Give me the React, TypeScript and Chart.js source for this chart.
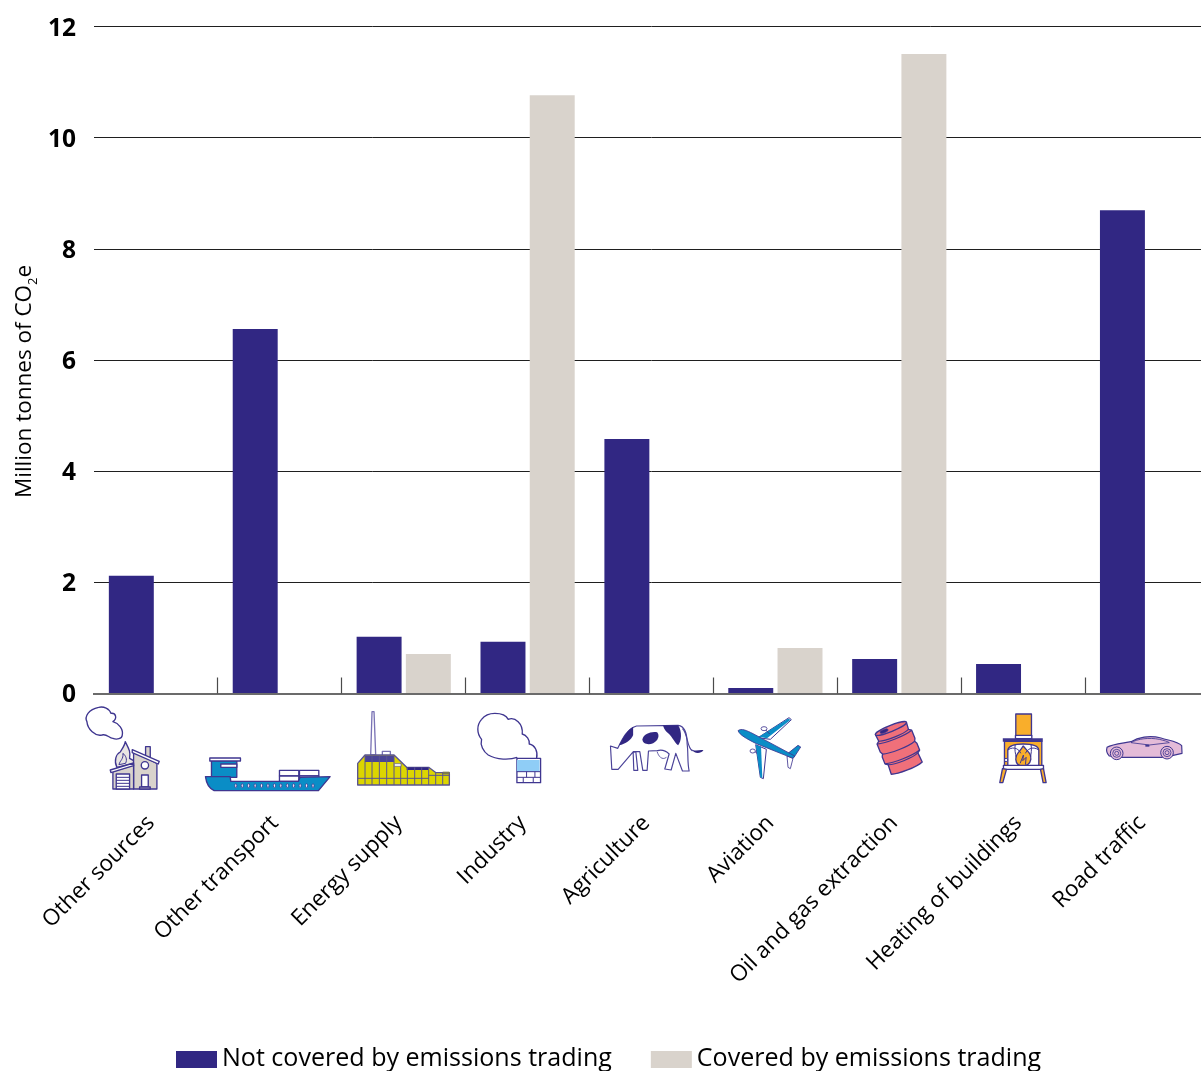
import React, { useEffect, useRef } from "react";
import { Chart, registerables } from "chart.js";

Chart.register(...registerables);

const categories = [
  "Other sources",
  "Other transport",
  "Energy supply",
  "Industry",
  "Agriculture",
  "Aviation",
  "Oil and gas extraction",
  "Heating of buildings",
  "Road traffic",
];
const notCovered = [2.12, 6.56, 1.02, 0.93, 4.58, 0.1, 0.62, 0.53, 8.7];
const covered = [null, null, 0.71, 10.77, null, 0.82, 11.51, null, null];
const seriesNames = ["Not covered by emissions trading", "Covered by emissions trading"];

const NAVY = "#312783";
const BEIGE = "#d9d3cc";
const LINE = "#3f3690";
const BLUE = "#0a8dc6";
const FONT = '"Open Sans", sans-serif';

type Ctx = CanvasRenderingContext2D;

function shape(ctx: Ctx, d: string, fill?: string | null, stroke: string | null = LINE, lw = 4) {
  const p = new Path2D(d);
  if (fill) {
    ctx.fillStyle = fill;
    ctx.fill(p);
  }
  if (stroke) {
    ctx.strokeStyle = stroke;
    ctx.lineWidth = lw;
    ctx.stroke(p);
  }
}
const rect = (x: number, y: number, w: number, h: number) => `M${x} ${y}h${w}v${h}h${-w}Z`;
const circ = (x: number, y: number, r: number) => `M${x - r} ${y}a${r} ${r} 0 1 0 ${2 * r} 0a${r} ${r} 0 1 0 ${-2 * r} 0Z`;
const ell = (x: number, y: number, rx: number, ry: number) => `M${x - rx} ${y}a${rx} ${ry} 0 1 0 ${2 * rx} 0a${rx} ${ry} 0 1 0 ${-2 * rx} 0Z`;

// Pictograms are authored on a 3x grid; `cx` is the grid column of the category centre.
const icons: { cx: number; draw: (ctx: Ctx) => void }[] = [
  {
    cx: 258,
    draw: (c) => {
      shape(c, "M85 112C100 108 118 116 122 130C137 128 142 145 128 155C146 160 160 178 156 196C155 206 140 210 128 205C116 205 110 190 95 195C75 200 52 178 50 155C42 140 55 118 85 112Z");
      shape(c, "M165 215C175 235 182 245 178 265L190 272L190 280L140 292C130 272 138 252 150 246C156 236 164 226 165 215Z", "#e9e6e3");
      shape(c, "M158 250C166 256 172 268 166 280L146 284C150 270 160 268 158 250Z", null, LINE, 3);
      shape(c, rect(226, 230, 14, 32), BEIGE);
      shape(c, "M190 245L260 280L260 357L190 357Z", BEIGE);
      shape(c, "M128 305L190 285L190 357L128 357Z", BEIGE);
      shape(c, "M186 239L267 274L264 282L186 248Z", "#ffffff");
      shape(c, "M120 300L190 279L190 287L122 308Z", "#ffffff");
      shape(c, circ(224, 286, 11), "#ffffff");
      shape(c, rect(214, 315, 20, 36), "#ffffff");
      shape(c, rect(208, 351, 32, 6), BEIGE);
      shape(c, rect(138, 312, 40, 45), "#ffffff");
      for (let y = 322; y < 357; y += 9) shape(c, `M138 ${y}H178`, null, LINE, 3);
    },
  },
  {
    cx: 630,
    draw: (c) => {
      shape(c, rect(424, 272, 76, 50), BLUE);
      shape(c, rect(419, 264, 92, 9), "#ffffff");
      shape(c, rect(452, 282, 48, 10), "#ffffff");
      shape(c, rect(628, 301, 58, 17), "#ffffff");
      shape(c, rect(688, 301, 58, 17), "#ffffff");
      shape(c, rect(628, 318, 58, 16), "#ffffff");
      shape(c, rect(688, 318, 58, 12), "#ffffff");
      shape(c, "M406 320L480 320L482 334L685 334L690 322L780 320L745 362L432 362C416 355 408 336 406 320Z", BLUE);
      for (let x = 497; x <= 730; x += 19.3) shape(c, ell(x, 347, 3, 6), "#ffffff", LINE, 2.5);
    },
  },
  {
    cx: 1002,
    draw: (c) => {
      shape(c, "M902 255L906 125L912 125L917 255Z", "#ffffff", "#7a73b5");
      shape(c, rect(937, 244, 24, 14), "#ffffff", "#7a73b5");
      shape(c, "M863 345L863 280L885 255L972 255L1010 292L1076 292L1098 308L1138 308L1138 345Z", "#dcd500", "#5a5490");
      shape(c, rect(885, 257, 87, 19), "#4a4495", null);
      shape(c, rect(1010, 292, 66, 8), NAVY, null);
      shape(c, rect(1118, 305, 20, 8), "#7d7b4d", null);
      const ridge = [[885, 258], [906, 258], [928, 258], [950, 258], [972, 258], [992, 279], [1012, 292], [1034, 292], [1055, 292], [1076, 292], [1097, 308], [1118, 308]];
      for (const [x, top] of ridge) shape(c, `M${x} ${top}V345`, null, "#5a5490", 3);
      shape(c, "M863 325H1076M1076 316H1138", null, "#5a5490", 3);
      shape(c, rect(973, 281, 20, 8), "#ffffff", "#5a5490", 2);
    },
  },
  {
    cx: 204,
    draw: (c) => {
      shape(c, "M172 262C150 270 110 270 85 255C70 245 60 225 65 208C50 190 50 165 65 148C75 135 90 130 105 130C125 130 140 138 145 148C165 140 190 160 187 192C200 195 210 210 208 222C225 225 235 245 230 265");
      shape(c, rect(171, 265, 71, 73), "#ffffff");
      shape(c, rect(171, 270, 68, 35), "#8fcdf6", null);
      shape(c, "M171 322H242M171 305H242M200 305V322M225 305V322M190 322V338M220 322V338", null, LINE, 3);
    },
  },
  {
    cx: 576,
    draw: (c) => {
      shape(c, "M452 228L474 235C486 210 500 178 530 168L655 166C675 168 682 195 682 222C686 250 682 275 688 303L668 303L648 250L634 300L615 297L628 252C612 236 600 240 592 242L566 243L562 301L549 301L540 245L520 245L522 301L534 301L528 245L518 248L475 298L456 298Z", "#ffffff", "#4a4298", 3.5);
      shape(c, "M520 170C505 178 490 200 478 226C497 222 515 210 520 195Z", NAVY, null);
      shape(c, "M548 208C550 192 575 183 592 187C600 195 596 212 580 220C565 226 548 222 548 208Z", NAVY, null);
      shape(c, "M610 166L655 166C668 185 665 215 655 226C642 215 635 195 620 185C615 180 610 172 610 166Z", NAVY, null);
      shape(c, "M668 176C685 192 680 232 698 243", null, "#4a4298", 3.5);
      shape(c, "M694 238C708 246 720 238 731 241C722 252 704 252 694 238Z", NAVY, null);
      shape(c, "M592 245C596 258 606 272 620 262", null, "#4a4298", 2.5);
    },
  },
  {
    cx: 948,
    draw: (c) => {
      shape(c, "M895 203L988 143L995 149L932 208Z", "#ffffff", LINE, 3);
      shape(c, "M888 224L920 238L911 326L902 322Z", "#ffffff", LINE, 3);
      shape(c, "M898 200L985 146L993 149L922 205Z", BLUE, null);
      shape(c, "M888 224L904 230L908 324L902 322Z", BLUE, null);
      shape(c, ell(913, 176, 9, 6), "#ffffff", LINE, 2.5);
      shape(c, "M918 180L930 192", null, LINE, 3);
      shape(c, ell(879, 243, 8, 6), "#ffffff", LINE, 2.5);
      shape(c, "M886 245L892 250", null, LINE, 3);
      shape(c, "M985 250L1015 226L1023 231L1003 262Z", BLUE, LINE, 2.5);
      shape(c, "M982 258L1000 265L992 296L985 292Z", "#ffffff", LINE, 2.5);
      shape(c, "M835 182C845 174 860 181 880 191L1005 258L1000 265L890 221C860 206 840 195 835 182Z", BLUE, LINE, 2.5);
    },
  },
  {
    cx: 150,
    draw: (c) => {
      c.save();
      c.translate(147, 233);
      c.rotate(-0.38);
      const pink = "#f0707a";
      shape(c, "M-50 -62L50 -62L48 -40L56 -34L56 -8L52 0L56 8L56 30L48 36L50 66C30 74 -30 74 -50 66L-48 36L-56 30L-56 8L-52 0L-56 -8L-56 -34L-48 -40Z", pink);
      shape(c, ell(0, -62, 50, 9), pink);
      shape(c, "M-56 -34C-30 -26 30 -26 56 -34M-48 -40C-30 -32 30 -32 48 -40M-52 0C-30 8 30 8 52 0M-56 30C-30 38 30 38 56 30M-48 36C-30 44 30 44 48 36", null, LINE, 3.5);
      shape(c, ell(-22, -62, 13, 5), NAVY, LINE, 2);
      c.restore();
    },
  },
  {
    cx: 522,
    draw: (c) => {
      const orange = "#f9ae2b";
      shape(c, rect(499, 132, 47, 66), orange);
      shape(c, rect(498, 196, 49, 10), "#ffffff");
      shape(c, rect(465, 214, 112, 76), orange);
      shape(c, "M475 288L475 240C478 226 500 222 521 222C545 222 566 226 568 240L568 288Z", "#ffffff");
      shape(c, "M521 228C535 245 546 250 544 268C542 282 530 288 521 288C510 288 500 282 499 268C498 250 512 245 521 228Z", orange);
      shape(c, "M512 280L522 255L520 272L530 262L528 284", null, LINE, 3);
      shape(c, "M475 240C495 226 510 240 514 250M568 240C548 226 532 240 528 250M497 225C495 240 498 250 500 262M545 225C547 240 545 250 543 262", null, LINE, 3);
      shape(c, rect(460, 205, 120, 10), LINE, null);
      shape(c, rect(462, 286, 120, 12), "#ffffff");
      shape(c, "M459 296L451 338L460 338L471 298Z", orange);
      shape(c, "M573 298L582 296L590 338L581 338Z", orange);
      shape(c, circ(470, 270, 5), "#ffffff", LINE, 3);
    },
  },
  {
    cx: 894,
    draw: (c) => {
      shape(c, "M773 232C790 222 820 220 845 215C865 202 900 195 935 204C960 212 985 214 997 227L998 250L945 262L815 262L780 258C772 250 770 242 773 232Z", "#e4bbd8", LINE, 3.5);
      shape(c, "M845 218C865 206 900 202 930 208C945 212 955 214 960 218L900 225Z", "#e4bbd8", LINE, 2.5);
      shape(c, rect(888, 224, 12, 6), LINE, null);
      for (const [x, y] of [[802, 250], [953, 248]]) {
        shape(c, circ(x, y, 19), "#e4bbd8", LINE, 3);
        shape(c, circ(x, y, 12), null, LINE, 2.5);
        shape(c, circ(x, y, 6), null, LINE, 2.5);
      }
    },
  },
];

// Draws the category separators, pictograms, axis title with subscript and the legend row.
const decorations = {
  id: "decorations",
  beforeDatasetsDraw(chart: any) {
    const { ctx, scales } = chart;
    const x = scales.x;
    const base = scales.y.getPixelForValue(0);
    ctx.save();
    ctx.strokeStyle = "#4a4a4a";
    ctx.lineWidth = 1.2;
    for (let i = 1; i < categories.length; i++) {
      const px = Math.floor((x.getPixelForTick(i - 1) + x.getPixelForTick(i)) / 2) + 0.5;
      ctx.beginPath();
      ctx.moveTo(px, base - 16);
      ctx.lineTo(px, base);
      ctx.stroke();
    }
    ctx.restore();
  },
  afterDraw(chart: any) {
    const { ctx, scales } = chart;
    const x = scales.x;
    icons.forEach((icon, i) => {
      ctx.save();
      ctx.translate(x.getPixelForTick(i) - icon.cx / 3 + 0.3, 670);
      ctx.scale(1 / 3, 1 / 3);
      ctx.lineJoin = "round";
      icon.draw(ctx);
      ctx.restore();
    });

    // Rotated axis title with a lowered, smaller "2"
    ctx.save();
    ctx.translate(31, 498);
    ctx.rotate(-Math.PI / 2);
    ctx.fillStyle = "#000";
    ctx.textBaseline = "alphabetic";
    ctx.textAlign = "left";
    ctx.font = `22.5px ${FONT}`;
    const head = "Million tonnes of CO";
    ctx.fillText(head, 0, 0);
    let tx = ctx.measureText(head).width;
    ctx.font = `13px ${FONT}`;
    ctx.fillText("2", tx, 6);
    tx += ctx.measureText("2").width;
    ctx.font = `22.5px ${FONT}`;
    ctx.fillText("e", tx, 0);
    ctx.restore();

    // Legend row
    ctx.save();
    ctx.font = `25.05px ${FONT}`;
    ctx.textBaseline = "alphabetic";
    ctx.textAlign = "left";
    let lx = 176;
    chart.data.datasets.forEach((ds: any) => {
      ctx.fillStyle = ds.backgroundColor;
      ctx.fillRect(lx, 1051, 41, 17);
      ctx.fillStyle = "#000";
      ctx.fillText(ds.label, lx + 46, 1066);
      lx += 46 + ctx.measureText(ds.label).width + 39;
    });
    ctx.restore();
  },
};

const clearPadding = (s: any) => {
  s.paddingLeft = 0;
  s.paddingRight = 0;
  s.paddingTop = 0;
  s.paddingBottom = 0;
};

export default function App() {
  const ref = useRef<HTMLCanvasElement>(null);
  useEffect(() => {
    const chart = new Chart(ref.current!, {
      type: "bar",
      data: {
        labels: categories,
        datasets: [
          { label: seriesNames[0], data: notCovered, backgroundColor: NAVY },
          { label: seriesNames[1], data: covered, backgroundColor: BEIGE },
        ],
      },
      options: {
        animation: false,
        responsive: false,
        datasets: { bar: { categoryPercentage: 0.795, barPercentage: 0.913 } },
        layout: { padding: { top: 26.9, left: 0, right: 0, bottom: 0 } },
        plugins: { legend: { display: false }, tooltip: { enabled: false } },
        scales: {
          x: {
            afterFit: (s: any) => {
              s.height = 377.5;
              clearPadding(s);
            },
            grid: { display: false },
            border: { display: true, color: "#6b6b6b", width: 2 },
            ticks: {
              autoSkip: false,
              minRotation: 45,
              maxRotation: 45,
              padding: 108.5,
              labelOffset: -5,
              color: "#000",
              font: { family: FONT, size: 22.4 },
            },
          },
          y: {
            min: 0,
            max: 12,
            afterFit: (s: any) => {
              s.width = 94;
              clearPadding(s);
            },
            border: { display: false },
            grid: {
              drawTicks: false,
              color: (c: any) => (c.tick.value === 0 ? "rgba(0,0,0,0)" : "#1f1f1f"),
              lineWidth: 1,
            },
            ticks: {
              stepSize: 2,
              padding: 18,
              labelOffset: 1.8,
              color: "#000",
              font: { family: FONT, size: 24.5, weight: "bold" },
            },
          },
        },
      },
      plugins: [decorations],
    } as any);
    return () => chart.destroy();
  }, []);
  return (
    <div style={{ position: "absolute", left: 0, top: 0, width: 1201, height: 1071, overflow: "hidden", background: "#fff" }}>
      <canvas ref={ref} width={1209} height={1071} style={{ display: "block" }} />
    </div>
  );
}
